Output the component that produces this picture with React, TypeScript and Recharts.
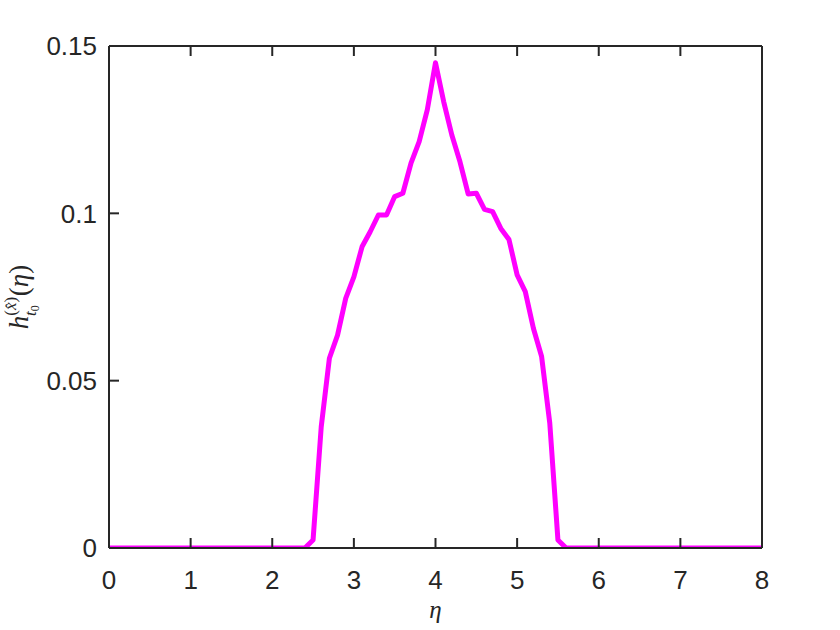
import { LineChart, Line, XAxis, YAxis, Label } from "recharts";

// eta samples (0.1 grid inside the bump, flat zero outside)
const eta = [
  0, 2.4, 2.5, 2.6, 2.7, 2.8, 2.9, 3.0, 3.1, 3.2, 3.3, 3.4, 3.5, 3.6, 3.7, 3.8,
  3.9, 4.0, 4.1, 4.2, 4.3, 4.4, 4.5, 4.6, 4.7, 4.8, 4.9, 5.0, 5.1, 5.2, 5.3,
  5.4, 5.5, 5.6, 8,
];
const hValues = [
  0, 0, 0.0024, 0.0362, 0.0567, 0.0636, 0.0746, 0.081, 0.09, 0.0945, 0.0995,
  0.0995, 0.105, 0.106, 0.115, 0.1214, 0.131, 0.145, 0.1334, 0.1234, 0.1154,
  0.1058, 0.106, 0.1012, 0.1005, 0.0955, 0.0922, 0.0816, 0.0766, 0.0656,
  0.0572, 0.0373, 0.0024, 0, 0,
];
const xTicks = [0, 1, 2, 3, 4, 5, 6, 7, 8];
const yTicks = [0, 0.05, 0.1, 0.15];

const data = eta.map((e, i) => ({ eta: e, h: hValues[i] }));

const axisColor = "#262626";
const sansFont = "Liberation Sans, Arial, sans-serif";
const fontSize = 26;
const lineStyle = { stroke: axisColor, strokeWidth: 2 };
const TICK = -10; // negative = ticks point into the plot

function BottomTick(props: any) {
  const { x, y, payload } = props;
  return (
    <text x={x} y={y + fontSize * 0.72} textAnchor="middle" fontFamily={sansFont} fontSize={fontSize} fill={axisColor}>
      {payload.value}
    </text>
  );
}

function LeftTick(props: any) {
  const { x, y, payload } = props;
  return (
    <text x={x} y={y + fontSize * 0.36} textAnchor="end" fontFamily={sansFont} fontSize={fontSize} fill={axisColor}>
      {String(payload.value)}
    </text>
  );
}

function EmptyTick() {
  return <g />;
}

function EtaLabel(props: any) {
  const { x, y, width } = props.viewBox;
  return (
    <text
      x={x + width / 2}
      y={y + 70}
      textAnchor="middle"
      fontFamily="Liberation Serif, serif"
      fontStyle="italic"
      fontSize={25}
      fill={axisColor}
    >
      η
    </text>
  );
}

function HLabel(props: any) {
  const { x, y, height } = props.viewBox;
  const cx = x - 21;
  const cy = y + height / 2;
  return (
    <text
      transform={`translate(${cx},${cy}) rotate(-90)`}
      textAnchor="middle"
      fontFamily="Liberation Serif, serif"
      fontStyle="italic"
      fontSize={27}
      fill={axisColor}
    >
      <tspan>h</tspan>
      <tspan fontSize={17} dy={-12} fontStyle="normal">(</tspan>
      <tspan fontSize={17}>x̂</tspan>
      <tspan fontSize={17} fontStyle="normal">)</tspan>
      <tspan fontSize={17} dx={-19} dy={20}>t</tspan>
      <tspan fontSize={12} dy={3} fontStyle="normal">0</tspan>
      <tspan dx={9} dy={-11} fontStyle="normal">(</tspan>
      <tspan>η</tspan>
      <tspan fontStyle="normal">)</tspan>
    </text>
  );
}

export default function App() {
  return (
    <div style={{ position: "absolute", left: 0, top: 0, background: "#fff" }}>
      <LineChart
        width={840}
        height={630}
        data={data}
        margin={{ top: 45, right: 77, bottom: 42, left: 49 }}
      >
        <XAxis
          xAxisId="b"
          dataKey="eta"
          type="number"
          domain={[0, 8]}
          ticks={xTicks}
          height={40}
          axisLine={lineStyle}
          tickLine={lineStyle}
          tickSize={TICK}
          tickMargin={32}
          tick={<BottomTick />}
          allowDataOverflow
        >
          <Label content={<EtaLabel />} />
        </XAxis>
        <XAxis
          xAxisId="t"
          orientation="top"
          dataKey="eta"
          type="number"
          domain={[0, 8]}
          ticks={xTicks}
          height={1}
          axisLine={lineStyle}
          tickLine={lineStyle}
          tickSize={TICK}
          tick={<EmptyTick />}
        />
        <YAxis
          yAxisId="l"
          type="number"
          domain={[0, 0.15]}
          ticks={yTicks}
          width={60}
          axisLine={lineStyle}
          tickLine={lineStyle}
          tickSize={TICK}
          tickMargin={22}
          tick={<LeftTick />}
          allowDataOverflow
        >
          <Label content={<HLabel />} />
        </YAxis>
        <YAxis
          yAxisId="r"
          orientation="right"
          type="number"
          domain={[0, 0.15]}
          ticks={yTicks}
          width={1}
          axisLine={lineStyle}
          tickLine={lineStyle}
          tickSize={TICK}
          tick={<EmptyTick />}
        />
        <Line
          xAxisId="b"
          yAxisId="l"
          dataKey="h"
          type="linear"
          stroke="#FF00FF"
          strokeWidth={5}
          strokeLinejoin="round"
          dot={false}
          isAnimationActive={false}
        />
      </LineChart>
    </div>
  );
}
